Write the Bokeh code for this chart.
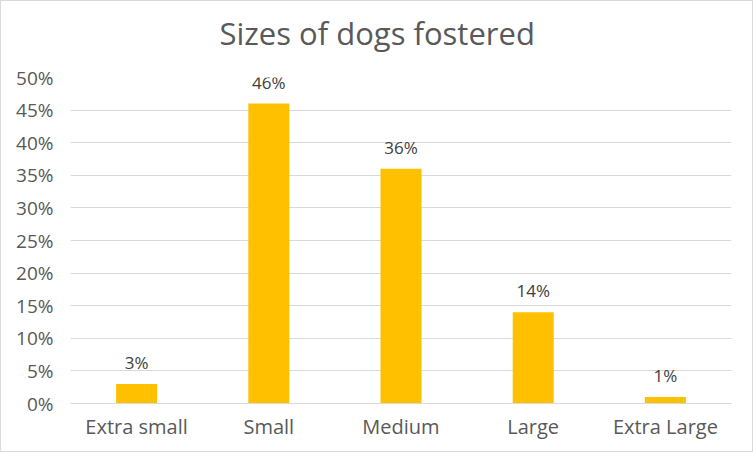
from bokeh.plotting import figure
from bokeh.models import ColumnDataSource, LabelSet, Title, FixedTicker, PrintfTickFormatter
from bokeh.core.properties import value
from bokeh.embed import file_html
from bokeh.resources import INLINE

title_text = "Sizes of dogs fostered"
categories = ["Extra small", "Small", "Medium", "Large", "Extra Large"]
values = [3, 46, 36, 14, 1]
labels = [f"{v}%" for v in values]
y_ticks = [0, 5, 10, 15, 20, 25, 30, 35, 40, 45, 50]

FONT = "Open Sans"
GREY = "#595959"

src = ColumnDataSource(dict(cat=categories, val=values, lab=labels))

p = figure(x_range=categories, y_range=(0, 50), width=753, height=452,
           output_backend="svg", toolbar_location=None,
           min_border_left=69, min_border_right=23, min_border_bottom=50, min_border_top=76,
           styles={"border": "1px solid #d9d9d9", "box-sizing": "border-box"})
p.outline_line_color = None

# spacer between title and plot frame (closest to the frame), then the real title
p.add_layout(Title(text=" ", text_font_size="1px", standoff=21), "above")
p.add_layout(Title(text=title_text, align="left", text_font=FONT,
                   text_font_size="31px", text_font_style="normal", text_color=GREY,
                   standoff=0, offset=149), "above")

p.vbar(x="cat", top="val", width=0.31, source=src, color="#FFC000", line_color=None)

p.add_layout(LabelSet(x="cat", y="val", text="lab", source=src, text_align="center",
                      text_baseline="bottom", y_offset=10, text_font=value(FONT),
                      text_font_size="17px", text_color="#404040"))

p.yaxis.ticker = FixedTicker(ticks=y_ticks)
p.yaxis.formatter = PrintfTickFormatter(format="%d%%")
p.yaxis.axis_line_color = None
p.yaxis.major_tick_line_color = None
p.yaxis.minor_tick_line_color = None
p.yaxis.major_label_text_font = FONT
p.yaxis.major_label_text_font_size = "19px"
p.yaxis.major_label_text_color = GREY
p.yaxis.major_label_standoff = 11

p.xaxis.axis_line_color = "#d9d9d9"
p.xaxis.major_tick_line_color = None
p.xaxis.minor_tick_line_color = None
p.xaxis.major_label_text_font = FONT
p.xaxis.major_label_text_font_size = "20px"
p.xaxis.major_label_text_color = GREY
p.xaxis.major_label_standoff = 3

p.xgrid.grid_line_color = None
p.ygrid.grid_line_color = "#d9d9d9"
p.ygrid.ticker = FixedTicker(ticks=y_ticks)

open("out.html", "w").write(file_html(p, INLINE))
